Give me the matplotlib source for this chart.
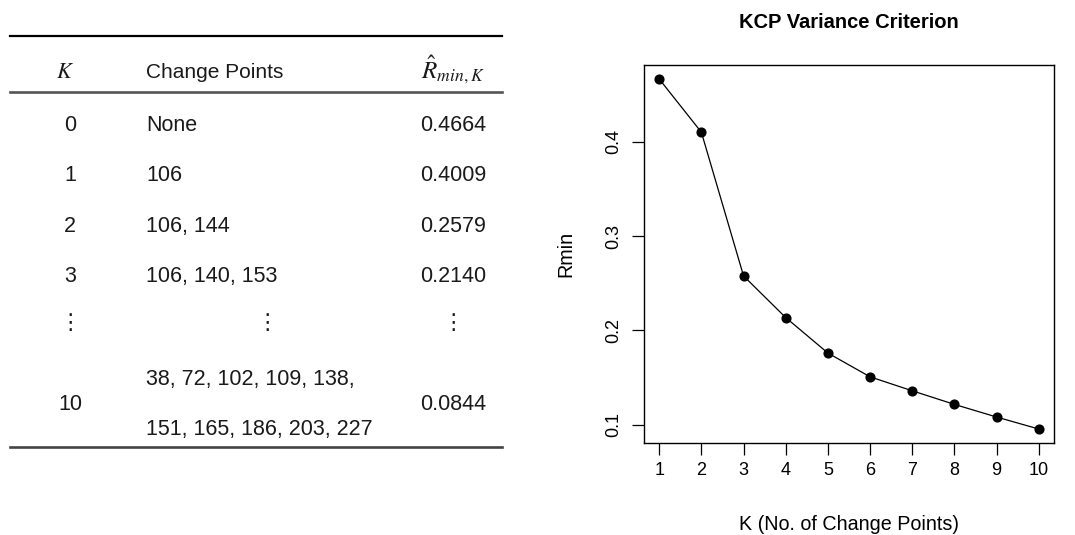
import matplotlib
matplotlib.use("Agg")
from matplotlib import pyplot as plt

# Table contents
table_k = ["0", "1", "2", "3", "\u22ee", "10"]
table_cps = ["None", "106", "106, 144", "106, 140, 153", "\u22ee",
             ["38, 72, 102, 109, 138,", "151, 165, 186, 203, 227"]]
table_r = ["0.4664", "0.4009", "0.2579", "0.2140", "\u22ee", "0.0844"]

# Values
k_values = [1, 2, 3, 4, 5, 6, 7, 8, 9, 10]
rmin_values = [0.4664, 0.410, 0.2577, 0.2136, 0.176, 0.1508, 0.136, 0.1216, 0.1082, 0.0955]

plt.rcParams["font.family"] = ["Liberation Sans", "DejaVu Sans"]
plt.rcParams["mathtext.fontset"] = "stix"

W, H = 1075, 535
fig = plt.figure(figsize=(W / 100, H / 100), dpi=100)


def fx(px):
    return px / W


def fy(py):
    return 1 - py / H


# ---- table on the left ----
tc = "#1a1a1a"
fs = 15.5
fig.add_artist(plt.Line2D([fx(10), fx(502)], [fy(36), fy(36)], color="black", lw=1.6))
fig.add_artist(plt.Line2D([fx(10), fx(502)], [fy(92), fy(92)], color="#555555", lw=1.9))
fig.add_artist(plt.Line2D([fx(10), fx(502)], [fy(447), fy(447)], color="#444444", lw=1.9))

fig.text(fx(65), fy(77.5), "$K$", ha="center", va="baseline", fontsize=16, color=tc)
fig.text(fx(146), fy(77.5), "Change Points", ha="left", va="baseline", fontsize=15, color=tc)
fig.text(fx(485), fy(78), r"$\hat{R}_{min,K}$", ha="right", va="baseline", fontsize=18, color=tc)

row_y = [123, 173, 224, 274, 323, 402]
for i, y in enumerate(row_y):
    dots = table_k[i] == "\u22ee"
    fam = ["DejaVu Sans"] if dots else None
    va = "center" if dots else "center_baseline"
    fig.text(fx(70), fy(y), table_k[i], ha="center", va=va, fontsize=fs, color=tc, family=fam)
    if isinstance(table_cps[i], list):
        # two-line cell, spread over the tall row
        for j, line in enumerate(table_cps[i]):
            fig.text(fx(146), fy(y - 24.5 + 49 * j), line, ha="left", va=va, fontsize=fs, color=tc)
    else:
        fig.text(fx(267) if dots else fx(146), fy(y), table_cps[i], ha="center" if dots else "left",
                 va=va, fontsize=fs, color=tc, family=fam)
    fig.text(fx(453) if dots else fx(486), fy(y), table_r[i], ha="center" if dots else "right",
             va=va, fontsize=fs, color=tc, family=fam)

# ---- plot on the right ----
ax = fig.add_axes([fx(644), fy(443), fx(1054) - fx(644), fy(65) - fy(443)])
ax.plot(k_values, rmin_values, "k-", lw=0.9, marker="o", markersize=6.3)
ax.set_xlim(0.64, 10.36)
ax.set_ylim(0.0807, 0.4812)
ax.set_xticks(k_values)
ax.set_yticks([0.1, 0.2, 0.3, 0.4])
ax.set_yticklabels(["0.1", "0.2", "0.3", "0.4"], rotation=90, va="center")
ax.tick_params(length=8.5, width=0.9, labelsize=13, direction="out")
ax.tick_params(axis="y", pad=7)
ax.tick_params(axis="x", pad=5)
for s in ax.spines.values():
    s.set_linewidth(1.0)
ax.set_title("KCP Variance Criterion", fontsize=14.5, fontweight="bold", pad=27)
ax.set_xlabel("K (No. of Change Points)", fontsize=14.2, labelpad=26)
ax.set_ylabel("Rmin", fontsize=14.2, labelpad=22)

fig.savefig("out.png", dpi=100)
